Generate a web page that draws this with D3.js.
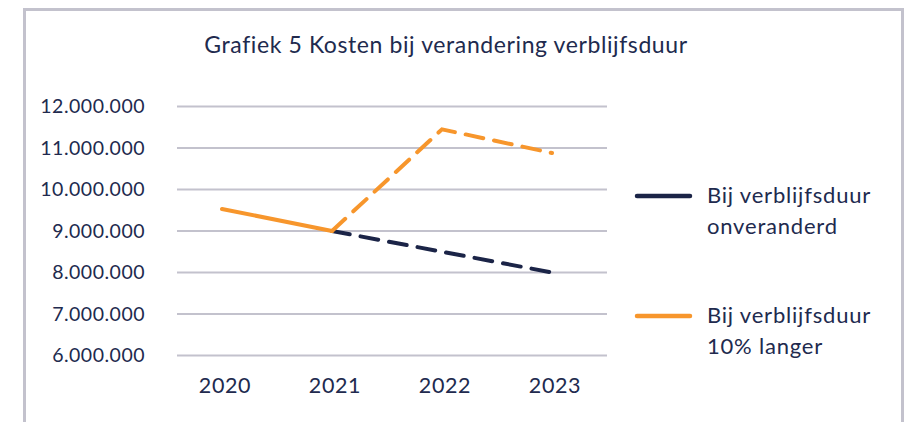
<!DOCTYPE html>
<html>
<head>
<meta charset="utf-8">
<script src="https://cdn.jsdelivr.net/npm/d3@7"></script>
<style>
    html, body { margin: 0; padding: 0; background: #fff; }
    svg text { font-family: Lato, "Noto Sans", sans-serif; fill: #212a4e; }
</style>
</head>
<body>
<svg id="chart" width="904" height="422"></svg>
<script>
    const years = ['2020', '2021', '2022', '2023'];
    const onveranderd = [null, 9000000, 8500000, 8000000];
    const langer = [null, 9000000, 11450000, 10880000];
    const historisch = [9530000, 9000000, null, null];
    const yTicks = [6000000, 7000000, 8000000, 9000000, 10000000, 11000000, 12000000];
    const legendLabels = [['Bij verblijfsduur', 'onveranderd'], ['Bij verblijfsduur', '10% langer']];

    const NAVY = '#1b2447';
    const ORANGE = '#f7962c';
    const GRID = '#c3c2cd';

    const svg = d3.select('#chart');

    // kader
    svg.append('path')
        .attr('d', 'M24.5,422 V9.5 H902.5 V422')
        .attr('fill', 'none')
        .attr('stroke', '#c3c2cd')
        .attr('stroke-width', 3);

    svg.append('text')
        .attr('x', 446)
        .attr('y', 53)
        .attr('text-anchor', 'middle')
        .attr('font-size', 23)
        .attr('letter-spacing', 0.6)
        .style('font-variant-ligatures', 'none')
        .text('Grafiek 5 Kosten bij verandering verblijfsduur');

    const x = d3.scalePoint().domain(years).range([222, 552]);
    const y = d3.scaleLinear().domain([6000000, 12000000]).range([355.5, 106.5]);

    const fmt = v => d3.format(',')(v).replace(/,/g, '.');

    // rasterlijnen
    svg.append('g').selectAll('line')
        .data(yTicks)
        .join('line')
        .attr('x1', 177)
        .attr('x2', 607)
        .attr('y1', d => y(d))
        .attr('y2', d => y(d))
        .attr('stroke', GRID)
        .attr('stroke-width', 2);

    svg.append('g').selectAll('text')
        .data(yTicks)
        .join('text')
        .attr('x', 145)
        .attr('y', d => y(d))
        .attr('dy', '0.35em')
        .attr('text-anchor', 'end')
        .attr('font-size', 19.5)
        .attr('letter-spacing', 0.5)
        .text(fmt);

    svg.append('g').selectAll('text')
        .data(years)
        .join('text')
        .attr('x', d => x(d) + 3)
        .attr('y', 393)
        .attr('text-anchor', 'middle')
        .attr('font-size', 21.5)
        .attr('letter-spacing', 0.6)
        .text(d => d);

    const line = d3.line()
        .defined(d => d.v !== null)
        .x(d => x(d.year))
        .y(d => y(d.v));

    const toPoints = arr => years.map((year, i) => ({ year: year, v: arr[i] }));

    svg.append('path')
        .datum(toPoints(onveranderd))
        .attr('d', line)
        .attr('fill', 'none')
        .attr('stroke', NAVY)
        .attr('stroke-width', 4)
        .attr('stroke-linecap', 'round')
        .attr('stroke-dasharray', '18 11');

    svg.append('path')
        .datum(toPoints(langer))
        .attr('d', line)
        .attr('fill', 'none')
        .attr('stroke', ORANGE)
        .attr('stroke-width', 4)
        .attr('stroke-linecap', 'round')
        .attr('stroke-dasharray', '18 11');

    svg.append('path')
        .datum(toPoints(historisch))
        .attr('d', line)
        .attr('fill', 'none')
        .attr('stroke', ORANGE)
        .attr('stroke-width', 4)
        .attr('stroke-linecap', 'round');

    // legenda
    const legendColors = [NAVY, ORANGE];
    const legendY = [196, 316];
    legendLabels.forEach(function (lbl, i) {
        svg.append('line')
            .attr('x1', 637).attr('x2', 690)
            .attr('y1', legendY[i]).attr('y2', legendY[i])
            .attr('stroke', legendColors[i])
            .attr('stroke-width', 4.5)
            .attr('stroke-linecap', 'round');
        svg.append('text')
            .attr('x', 707)
            .attr('y', legendY[i] + 7)
            .attr('font-size', 22)
            .attr('letter-spacing', 0.8)
            .text(lbl[0]);
        svg.append('text')
            .attr('x', 707)
            .attr('y', legendY[i] + 38)
            .attr('font-size', 22)
            .attr('letter-spacing', 0.8)
            .text(lbl[1]);
    });
</script>
</body>
</html>
